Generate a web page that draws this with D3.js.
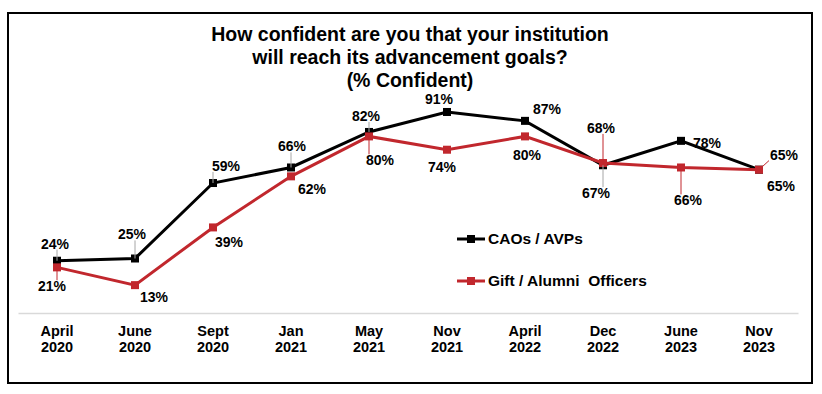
<!DOCTYPE html>
<html><head><meta charset="utf-8">
<script src="https://cdn.jsdelivr.net/npm/d3@7"></script>
<style>
html,body{margin:0;padding:0;background:#fff;}
svg{display:block;font-family:"Liberation Sans",Arial,sans-serif;}
</style></head>
<body>
<svg id="chart" width="822" height="394"></svg>
<script>
const categories = [["April","2020"],["June","2020"],["Sept","2020"],["Jan","2021"],["May","2021"],["Nov","2021"],["April","2022"],["Dec","2022"],["June","2023"],["Nov","2023"]];
const caoValues = [24,25,59,66,82,91,87,67,78,65];
const giftValues = [21,13,39,62,80,74,80,68,66,65];
const seriesNames = ["CAOs / AVPs","Gift / Alumni  Officers"];
const titleLines = ["How confident are you that your institution","will reach its advancement goals?","(% Confident)"];

// label placement (offsets from point), leader flag
const caoLabelPos = [[-2,-17,1],[-3,-24,1],[13,-17,1],[1,-21,1],[-3,-16,1],[-8,-13,0],[22,-12,0],[-7,28,1],[26,2,0],[22,16,0]];
const giftLabelPos = [[-5,19,1],[19,12,0],[16,15,0],[21,13,0],[11,24,1],[-5,17,0],[2,19,0],[-2,-35,1],[7,33,1],[25,-15,1]];

const RED = "#c1272d";
const svg = d3.select("#chart");

svg.append("rect").attr("x",8).attr("y",13).attr("width",804).attr("height",370)
  .attr("fill","#fff").attr("stroke","#000").attr("stroke-width",2);

const x = d3.scaleBand().domain(d3.range(categories.length)).range([18,798]);
const y = d3.scaleLinear().domain([0,100]).range([314,92]);
const cx = i => x(i) + x.bandwidth()/2;

// title
const t = svg.append("text").attr("text-anchor","middle").attr("font-weight","bold").attr("font-size",19.5).attr("fill","#000");
titleLines.forEach((l,i)=>t.append("tspan").attr("x",410).attr("y",41+i*23).text(l));

// axis
const axis = d3.axisBottom(x).tickSize(0).tickFormat(()=> "");
const ag = svg.append("g").attr("transform","translate(0,313)").call(axis);
ag.select(".domain").attr("stroke","#d9d9d9").attr("stroke-width",1.5);
ag.selectAll(".tick").each(function(d){
  const tt = d3.select(this).append("text").attr("fill","#000").attr("font-size",14.5).attr("font-weight","bold").attr("text-anchor","middle");
  tt.append("tspan").attr("x",0).attr("y",23).text(categories[d][0]);
  tt.append("tspan").attr("x",0).attr("y",39).text(categories[d][1]);
});

const line = d3.line().x((d,i)=>cx(i)).y(d=>y(d));

function drawSeries(vals,color){
  svg.append("path").datum(vals).attr("d",line).attr("fill","none").attr("stroke",color).attr("stroke-width",3).attr("stroke-linejoin","miter");
  svg.selectAll(null).data(vals).enter().append("rect")
    .attr("x",(d,i)=>cx(i)-4).attr("y",d=>y(d)-4).attr("width",8).attr("height",8).attr("fill",color);
}
function drawLabels(vals,pos,leaderColor){
  vals.forEach((v,i)=>{
    const px = cx(i), py = y(v);
    const lx = px+pos[i][0], ly = py+pos[i][1];
    const txt = svg.append("text").attr("x",lx).attr("y",ly).attr("dy","0.35em")
      .attr("text-anchor","middle").attr("font-size",14).attr("font-weight","bold").attr("fill","#000").text(v+"%");
    if(pos[i][2]){
      const b = txt.node().getBBox();
      const bx0=b.x-1,bx1=b.x+b.width+1,by0=b.y+2,by1=b.y+b.height-2;
      const ex = Math.max(bx0,Math.min(px,bx1)), ey = Math.max(by0,Math.min(py,by1));
      svg.append("line").attr("x1",px).attr("y1",py).attr("x2",ex).attr("y2",ey)
        .attr("stroke",leaderColor).attr("stroke-width",1);
    }
  });
}
drawSeries(caoValues,"#000");
drawSeries(giftValues,RED);
drawLabels(caoValues,caoLabelPos,"#a6a6a6");
drawLabels(giftValues,giftLabelPos,RED);

// legend
const leg = svg.append("g");
[["#000",239],[RED,281]].forEach((c,i)=>{
  leg.append("line").attr("x1",457).attr("x2",485).attr("y1",c[1]).attr("y2",c[1]).attr("stroke",c[0]).attr("stroke-width",3);
  leg.append("rect").attr("x",467).attr("y",c[1]-4).attr("width",8).attr("height",8).attr("fill",c[0]);
  leg.append("text").attr("x",488).attr("y",c[1]).attr("dy","0.35em").attr("font-size",15.5).attr("font-weight","bold")
    .attr("fill","#000").style("white-space","pre").text(seriesNames[i]);
});
</script>
</body></html>
